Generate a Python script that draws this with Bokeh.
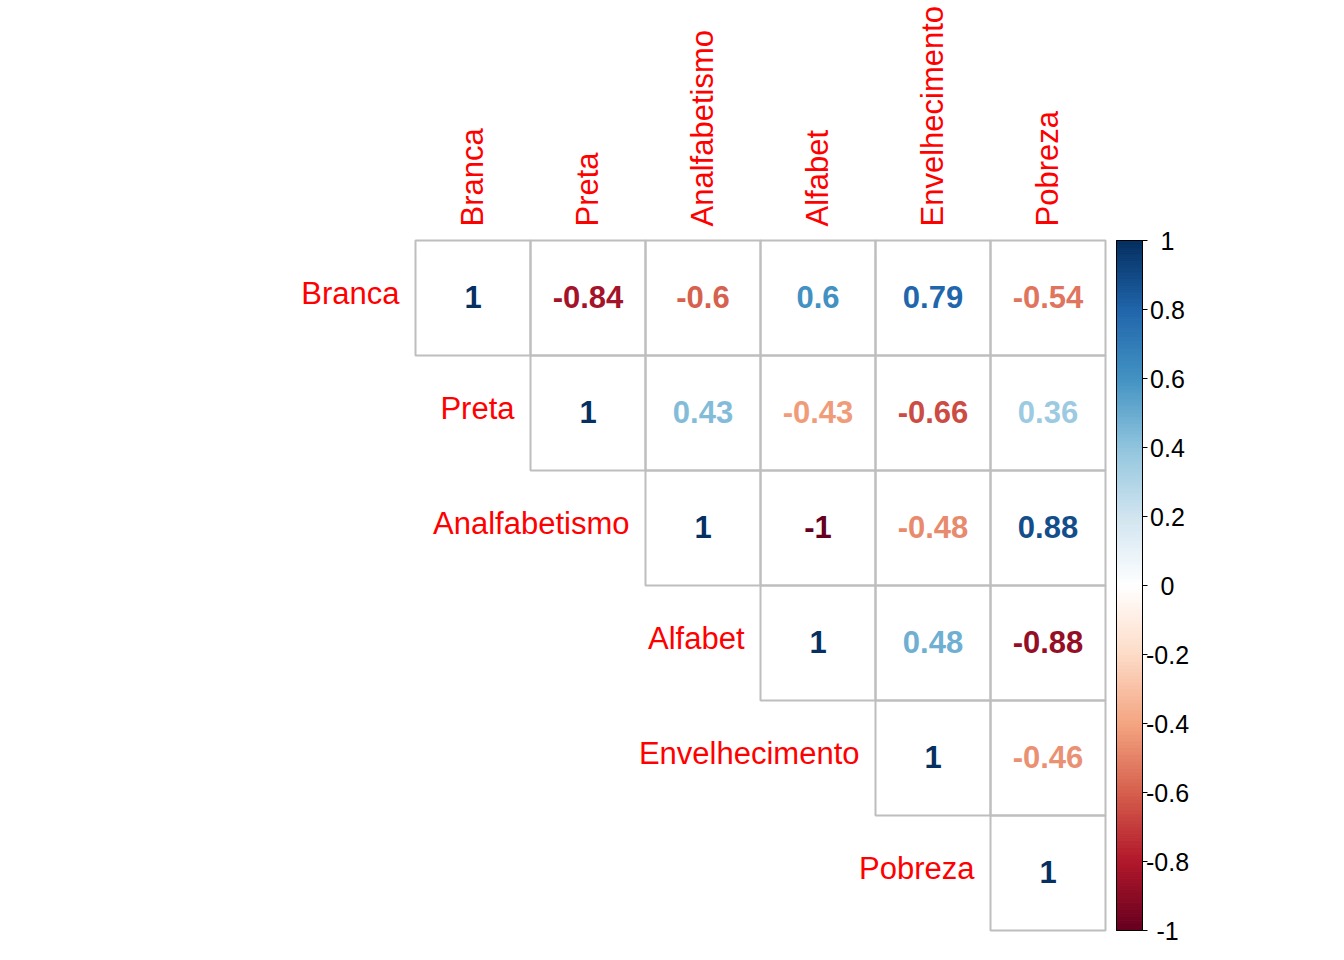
import math
import numpy as np
from bokeh.plotting import figure
from bokeh.models import Range1d, ColumnDataSource
from bokeh.core.properties import value
from bokeh.embed import file_html
from bokeh.resources import INLINE

# ---------------- data ----------------
variables = ["Branca", "Preta", "Analfabetismo", "Alfabet", "Envelhecimento", "Pobreza"]
row_branca = [1, -0.84, -0.6, 0.6, 0.79, -0.54]
row_preta = [1, 0.43, -0.43, -0.66, 0.36]
row_analf = [1, -1, -0.48, 0.88]
row_alfab = [1, 0.48, -0.88]
row_envel = [1, -0.46]
row_pobre = [1]
upper_rows = [row_branca, row_preta, row_analf, row_alfab, row_envel, row_pobre]
legend_ticks = [-1, -0.8, -0.6, -0.4, -0.2, 0, 0.2, 0.4, 0.6, 0.8, 1]
legend_labels = ["-1", "-0.8", "-0.6", "-0.4", "-0.2", "0", "0.2", "0.4", "0.6", "0.8", "1"]
rdbu_anchors = ["#67001F", "#B2182B", "#D6604D", "#F4A582", "#FDDBC7", "#FFFFFF",
                "#D1E5F0", "#92C5DE", "#4393C3", "#2166AC", "#053061"]
N_COLORS = 200

# ---------------- palette (colorRampPalette equivalent) ----------------
def hex2rgb(h):
    return [int(h[i:i + 2], 16) for i in (1, 3, 5)]

anc = np.array([hex2rgb(h) for h in rdbu_anchors], dtype=float)
pos = np.linspace(0, 1, len(anc))
t = np.linspace(0, 1, N_COLORS)
pal = []
for k in range(N_COLORS):
    rgb = [np.interp(t[k], pos, anc[:, c]) for c in range(3)]
    pal.append("#%02X%02X%02X" % tuple(int(round(v)) for v in rgb))

def col_for(r):
    idx = int(math.ceil((r + 1) / 2 * (N_COLORS - 1)))
    return pal[max(0, min(N_COLORS - 1, idx))]

def fmt(r):
    s = ("%.2f" % r).rstrip("0").rstrip(".")
    return "0" if s in ("-0", "") else s

# ---------------- layout ----------------
W, H = 1328, 944
CELL = 115.0
GRID_LEFT = 415
GRID_BOTTOM = 930
n = len(variables)

x0 = 0.5 - GRID_LEFT / CELL
y0 = 0.5 - (H - GRID_BOTTOM) / CELL

p = figure(width=W, height=H, output_backend="svg", toolbar_location=None,
           x_range=Range1d(x0, x0 + W / CELL), y_range=Range1d(y0, y0 + H / CELL),
           min_border=0, min_border_left=0, min_border_right=0,
           min_border_top=0, min_border_bottom=0)
p.axis.visible = False
p.grid.visible = False
p.outline_line_color = None
p.background_fill_color = "white"
p.border_fill_color = "white"

FONT = value("Liberation Sans")

# cells
cx, cy, txt, tcol = [], [], [], []
for i, row in enumerate(upper_rows):
    for k, r in enumerate(row):
        j = i + k
        cx.append(j + 1)
        cy.append(n - i)
        txt.append(fmt(r))
        tcol.append(col_for(r))
src = ColumnDataSource(dict(x=cx, y=cy, t=txt, c=tcol))
p.rect(x="x", y="y", width=1, height=1, source=src, fill_color=None,
       line_color="#BEBEBE", line_width=2)
p.text(x="x", y="y", text="t", text_color="c", source=src, text_font=FONT,
       text_font_style="bold", text_font_size="31px", text_align="center",
       text_baseline="alphabetic", y_offset=-1)

# row labels
p.text(x=[i + 0.5 for i in range(n)], y=[n - i for i in range(n)], text=variables,
       text_color="#FF0000", text_font=FONT, text_font_size="31px",
       text_align="right", text_baseline="alphabetic", x_offset=-16, y_offset=-5)

# column labels
p.text(x=[j + 1 for j in range(n)], y=[n + 0.5] * n, text=variables,
       text_color="#FF0000", text_font=FONT, text_font_size="31px",
       text_align="left", text_baseline="alphabetic", angle=math.pi / 2,
       x_offset=-0.5, y_offset=-14)

# color legend
bar_l = n + 0.5 + (1116 - 1105) / CELL
bar_r = n + 0.5 + (1142 - 1105) / CELL
def vy(v):
    return 0.5 + (v + 1) / 2 * n
edges = np.linspace(-1, 1, N_COLORS + 1)
p.quad(left=bar_l, right=bar_r, bottom=[vy(e) for e in edges[:-1]],
       top=[vy(e) for e in edges[1:]], fill_color=pal, line_color=pal, line_width=1)
p.quad(left=[bar_l], right=[bar_r], bottom=[vy(-1)], top=[vy(1)],
       fill_color=None, line_color="black", line_width=1)
tick_len = 5 / CELL
p.segment(x0=[bar_r] * len(legend_ticks), x1=[bar_r + tick_len] * len(legend_ticks),
          y0=[vy(v) for v in legend_ticks], y1=[vy(v) for v in legend_ticks],
          line_color="black", line_width=1)
p.text(x=[n + 0.5 + (1167 - 1105) / CELL] * len(legend_ticks),
       y=[vy(v) for v in legend_ticks], text=legend_labels, text_color="black",
       text_font=FONT, text_font_size="25px", text_align="center",
       text_baseline="middle")

open("out.html", "w").write(file_html(p, INLINE))
